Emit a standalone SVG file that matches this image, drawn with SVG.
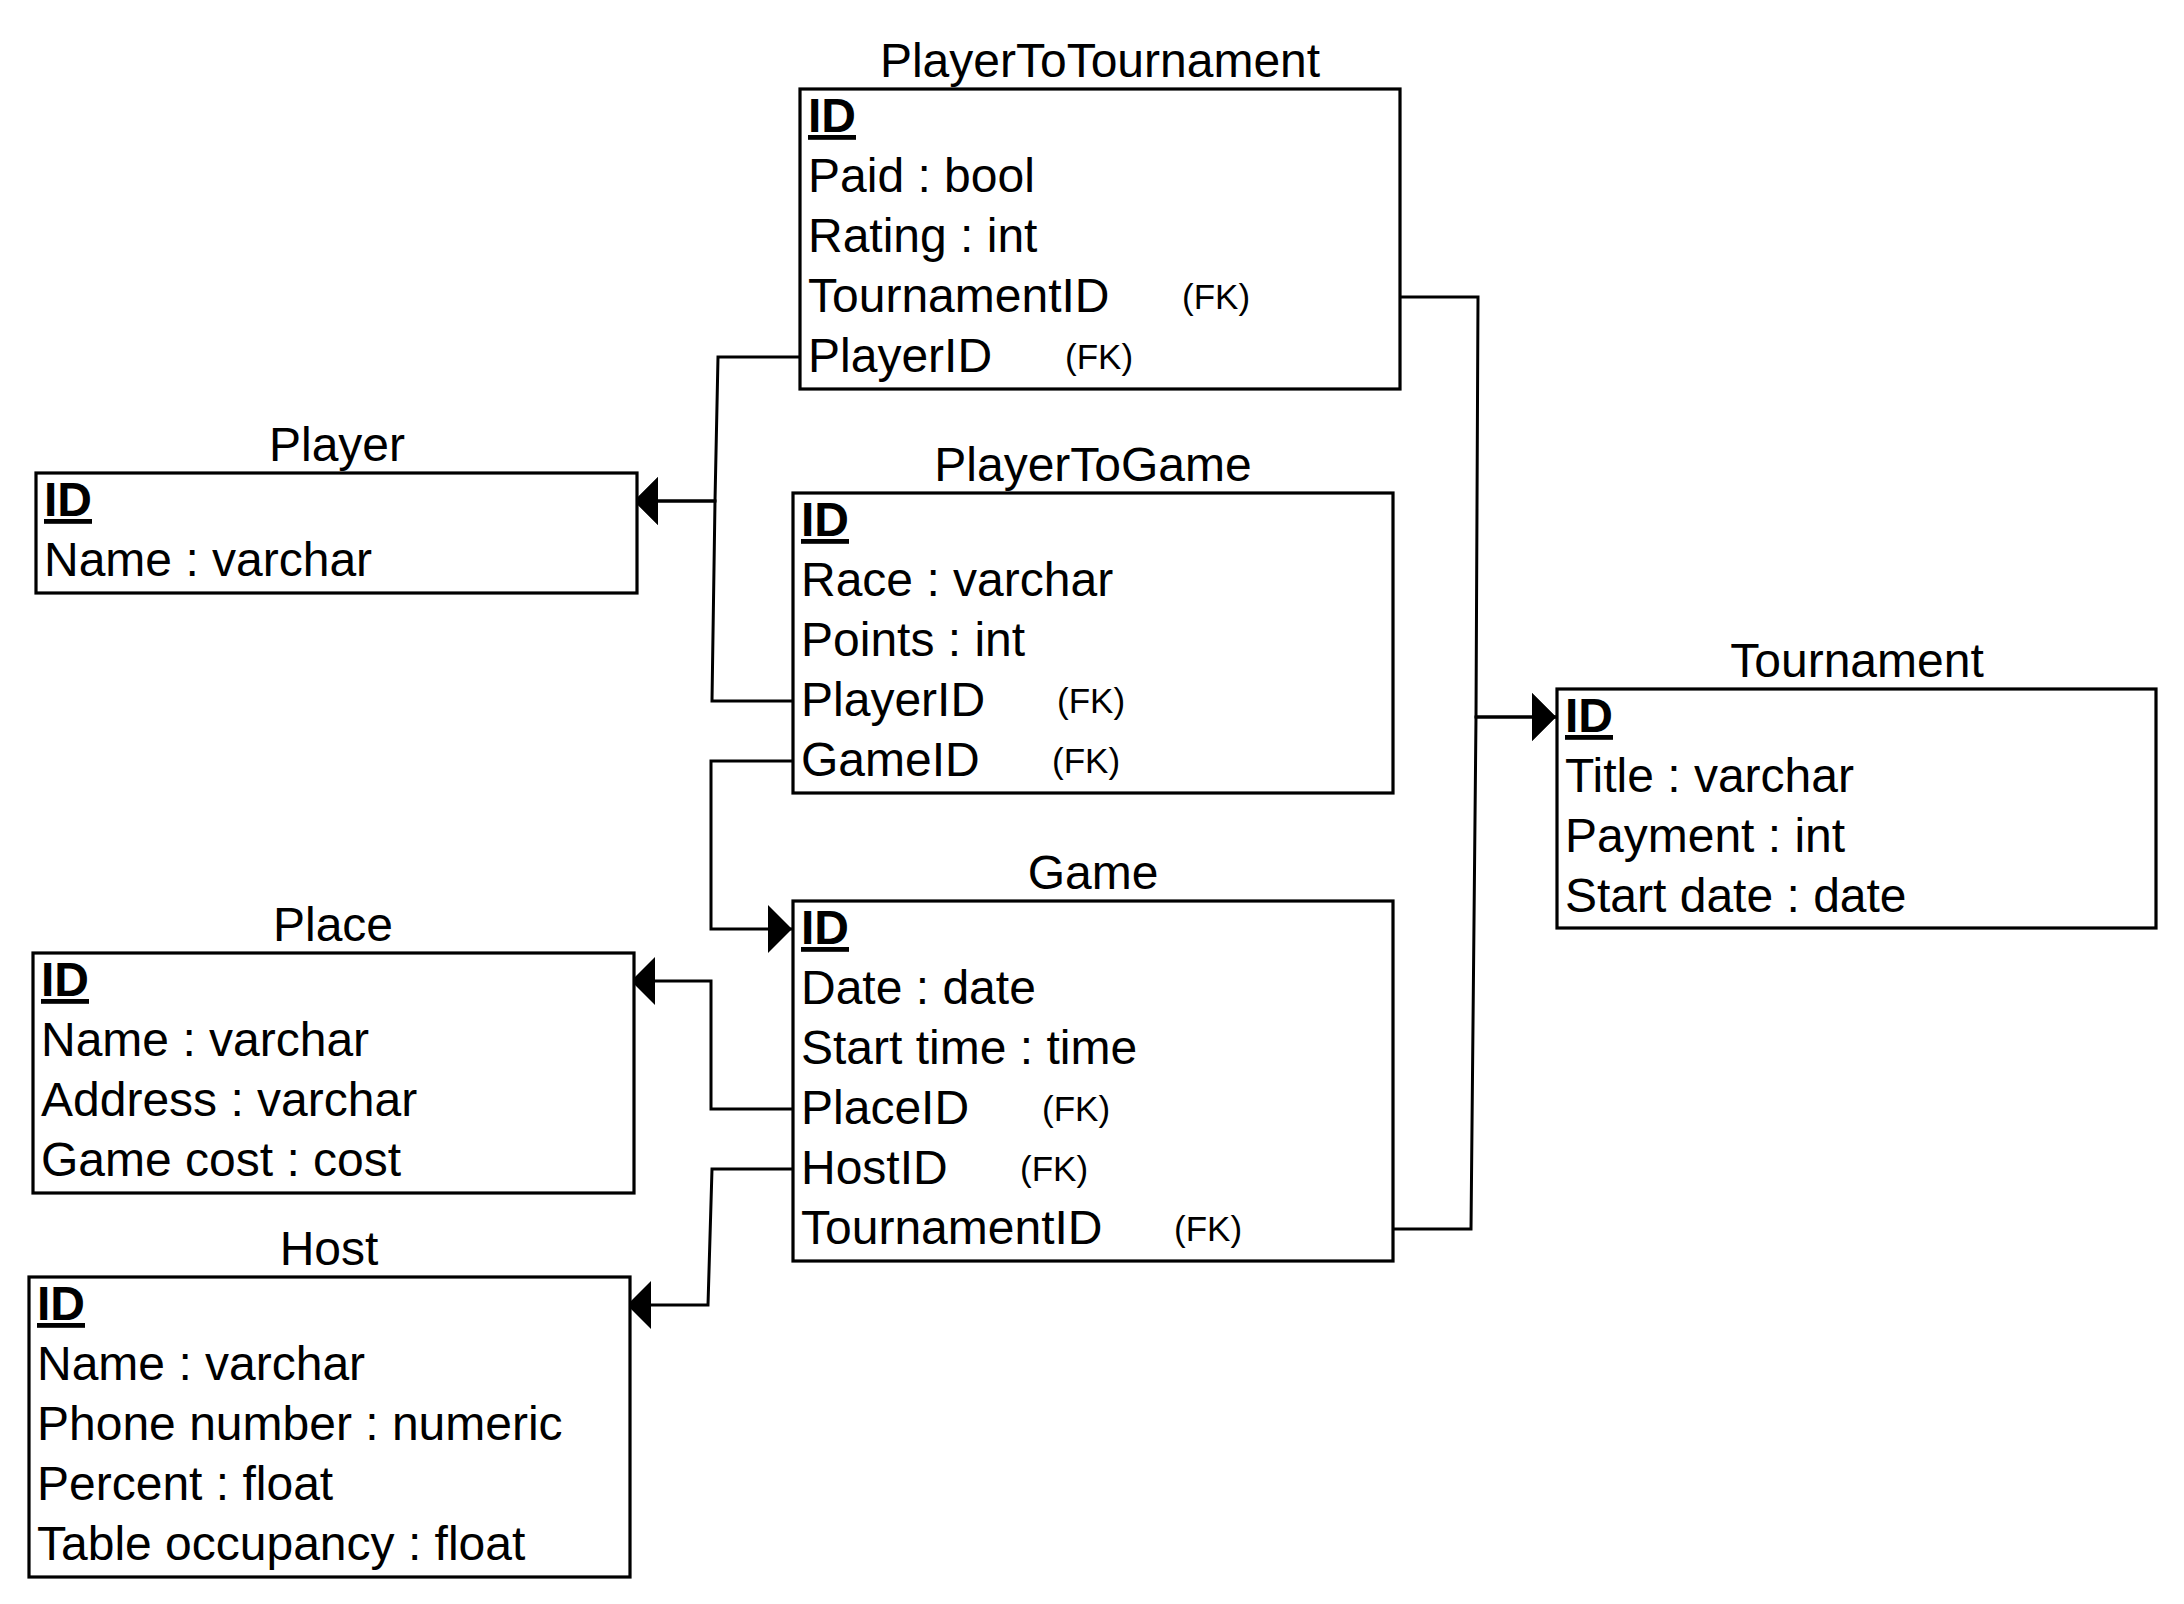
<svg xmlns="http://www.w3.org/2000/svg" width="2184" height="1604" viewBox="0 0 2184 1604">
<style>
.box{fill:#ffffff;stroke:#000000;stroke-width:3.2}
.t{font-family:"Liberation Sans",Arial,sans-serif;font-size:48px;fill:#000000}
.title{font-family:"Liberation Sans",Arial,sans-serif;font-size:48px;fill:#000000;text-anchor:middle}
.pk{font-family:"Liberation Sans",Arial,sans-serif;font-size:48px;font-weight:bold;text-decoration:underline;fill:#000000}
.fk{font-family:"Liberation Sans",Arial,sans-serif;font-size:35px;fill:#000000}
.edge{fill:none;stroke:#000000;stroke-width:3}
</style>
<defs>
<marker id="block" viewBox="0 0 24 48" markerWidth="24" markerHeight="48" refX="24" refY="24" orient="auto" markerUnits="userSpaceOnUse">
<path d="M0,0 L24,24 L0,48 Z" fill="#000000"/>
</marker>
</defs>
<rect width="2184" height="1604" fill="#ffffff"/>

<g id="connectors">
<path class="edge" d="M800,357 H718 L715,501 H634" marker-end="url(#block)"/>
<path class="edge" d="M793,701 H712 L715,501 H634" marker-end="url(#block)"/>
<path class="edge" d="M793,761 H711 V929 H792" marker-end="url(#block)"/>
<path class="edge" d="M793,1109 H711 V981 H631" marker-end="url(#block)"/>
<path class="edge" d="M793,1169 H712 L708,1305 H627" marker-end="url(#block)"/>
<path class="edge" d="M1400,297 H1478 L1476,717 H1556" marker-end="url(#block)"/>
<path class="edge" d="M1393,1229 H1471 L1476,717 H1556" marker-end="url(#block)"/>
</g>

<g id="PlayerToTournament">
<text class="title" x="1100" y="77">PlayerToTournament</text>
<rect class="box" x="800" y="89" width="600" height="300"/>
<text class="pk" x="808" y="132">ID</text>
<text class="t" x="808" y="192">Paid : bool</text>
<text class="t" x="808" y="252">Rating : int</text>
<text class="t" x="808" y="312">TournamentID</text>
<text class="fk" x="1182" y="309">(FK)</text>
<text class="t" x="808" y="372">PlayerID</text>
<text class="fk" x="1065" y="369">(FK)</text>
</g>

<g id="Player">
<text class="title" x="337" y="461">Player</text>
<rect class="box" x="36" y="473" width="601" height="120"/>
<text class="pk" x="44" y="516">ID</text>
<text class="t" x="44" y="576">Name : varchar</text>
</g>

<g id="PlayerToGame">
<text class="title" x="1093" y="481">PlayerToGame</text>
<rect class="box" x="793" y="493" width="600" height="300"/>
<text class="pk" x="801" y="536">ID</text>
<text class="t" x="801" y="596">Race : varchar</text>
<text class="t" x="801" y="656">Points : int</text>
<text class="t" x="801" y="716">PlayerID</text>
<text class="fk" x="1057" y="713">(FK)</text>
<text class="t" x="801" y="776">GameID</text>
<text class="fk" x="1052" y="773">(FK)</text>
</g>

<g id="Game">
<text class="title" x="1093" y="889">Game</text>
<rect class="box" x="793" y="901" width="600" height="360"/>
<text class="pk" x="801" y="944">ID</text>
<text class="t" x="801" y="1004">Date : date</text>
<text class="t" x="801" y="1064">Start time : time</text>
<text class="t" x="801" y="1124">PlaceID</text>
<text class="fk" x="1042" y="1121">(FK)</text>
<text class="t" x="801" y="1184">HostID</text>
<text class="fk" x="1020" y="1181">(FK)</text>
<text class="t" x="801" y="1244">TournamentID</text>
<text class="fk" x="1174" y="1241">(FK)</text>
</g>

<g id="Tournament">
<text class="title" x="1857" y="677">Tournament</text>
<rect class="box" x="1557" y="689" width="599" height="239"/>
<text class="pk" x="1565" y="732">ID</text>
<text class="t" x="1565" y="792">Title : varchar</text>
<text class="t" x="1565" y="852">Payment : int</text>
<text class="t" x="1565" y="912">Start date : date</text>
</g>

<g id="Place">
<text class="title" x="333" y="941">Place</text>
<rect class="box" x="33" y="953" width="601" height="240"/>
<text class="pk" x="41" y="996">ID</text>
<text class="t" x="41" y="1056">Name : varchar</text>
<text class="t" x="41" y="1116">Address : varchar</text>
<text class="t" x="41" y="1176">Game cost : cost</text>
</g>

<g id="Host">
<text class="title" x="329" y="1265">Host</text>
<rect class="box" x="29" y="1277" width="601" height="300"/>
<text class="pk" x="37" y="1320">ID</text>
<text class="t" x="37" y="1380">Name : varchar</text>
<text class="t" x="37" y="1440">Phone number : numeric</text>
<text class="t" x="37" y="1500">Percent : float</text>
<text class="t" x="37" y="1560">Table occupancy : float</text>
</g>
</svg>
